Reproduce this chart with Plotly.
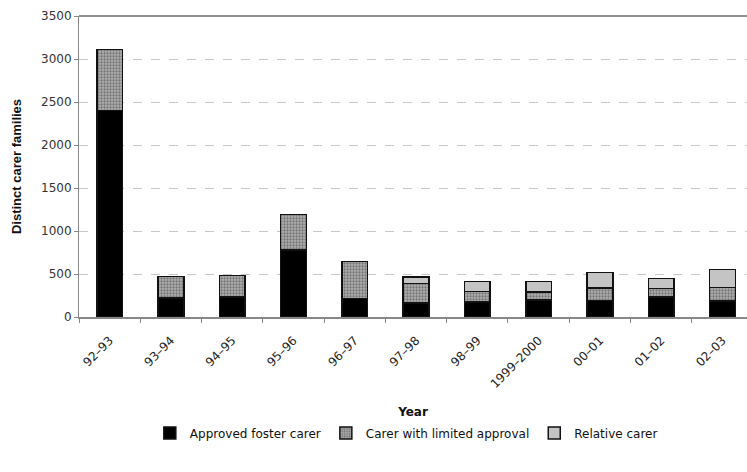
import plotly.graph_objects as go

# Financial years and distinct carer families by carer type
years = ["92–93", "93–94", "94–95", "95–96", "96–97", "97–98",
         "98–99", "1999–2000", "00–01", "01–02", "02–03"]
approved = [2400, 220, 235, 780, 215, 160, 175, 195, 190, 230, 185]
limited = [710, 250, 245, 410, 430, 230, 120, 95, 150, 100, 160]
relative = [0, 0, 0, 0, 0, 75, 115, 120, 180, 120, 210]

y_ticks = [0, 500, 1000, 1500, 2000, 2500, 3000, 3500]

fig = go.Figure()

outline = dict(color="#111111", width=1.5)

fig.add_trace(go.Bar(
    x=years, y=approved, name="Approved foster carer",
    marker=dict(color="#000000", line=outline),
))
fig.add_trace(go.Bar(
    x=years, y=limited, name="Carer with limited approval",
    marker=dict(color="#9a9a9a", line=outline,
                pattern=dict(shape=".", fgcolor="#3a3a3a", bgcolor="#b0b0b0",
                             size=3, solidity=0.45)),
))
fig.add_trace(go.Bar(
    x=years, y=relative, name="Relative carer",
    marker=dict(color="#c4c4c4", line=outline),
))

fig.update_layout(
    width=747, height=472,
    margin=dict(l=79, r=0, t=16, b=155),
    barmode="stack",
    bargap=0.58,
    plot_bgcolor="white",
    paper_bgcolor="white",
    font=dict(family="DejaVu Sans", size=12, color="#222222"),
    legend=dict(
        orientation="h", x=0.49, xanchor="center", y=-0.385, yanchor="middle",
        traceorder="normal",
        font=dict(family="DejaVu Sans", size=12, color="#111111"),
        itemwidth=30, tracegroupgap=0,
    ),
    xaxis=dict(
        type="category",
        range=[-0.5, 10.4],
        tickson="boundaries",
        ticks="outside", ticklen=4, tickcolor="#888888",
        showline=True, linecolor="#888888", linewidth=1.5,
        showgrid=False,
        tickangle=-45,
        ticklabelstandoff=10,
        tickfont=dict(family="DejaVu Sans", size=12, color="#222222"),
        title=dict(text="<b>Year</b>",
                   font=dict(family="DejaVu Sans", size=12, color="#111111"),
                   standoff=18),
    ),
    yaxis=dict(
        range=[0, 3500],
        tickvals=y_ticks,
        ticks="outside", ticklen=4, tickcolor="#888888",
        showline=True, linecolor="#888888", linewidth=1,
        showgrid=True, gridcolor="#c8c8c8", griddash="dash", gridwidth=1,
        zeroline=False,
        tickfont=dict(family="DejaVu Sans", size=12, color="#333333"),
        title=dict(text="<b>Distinct carer families</b>",
                   font=dict(family="Liberation Sans", size=13, color="#111111"),
                   standoff=16),
    ),
)

# Upper frame line of the plotting area
fig.add_shape(type="line", xref="paper", yref="paper",
              x0=0, x1=1, y0=1, y1=1,
              line=dict(color="#909090", width=2))

fig.write_html("out.html")
